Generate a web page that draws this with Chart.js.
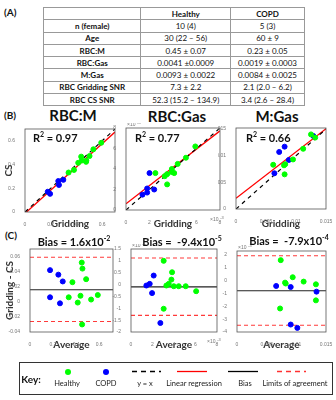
<!DOCTYPE html>
<html>
<head>
<meta charset="utf-8">
<script src="https://cdn.jsdelivr.net/npm/chart.js@4.4.0/dist/chart.umd.min.js"></script>
<style>
  body { margin: 0; width: 336px; height: 400px; background: #fff; position: relative; overflow: hidden; font-family: Lato, "Liberation Sans", sans-serif; color: #111; }
  .abs { position: absolute; white-space: nowrap; }
  .c { transform: translate(-50%, -50%); }
  canvas { position: absolute; }
  table { position: absolute; left: 43px; top: 7px; width: 262px; border-collapse: collapse; font-size: 8px; }
  td { border: 0.8px solid #999; height: 11.3px; padding: 0; text-align: center; }
  td:first-child, tr:first-child td { font-weight: bold; }
  .lbl { font-weight: bold; font-size: 10px; }
  .ttl { font-weight: bold; font-size: 15px; }
  .r2 { font-weight: bold; font-size: 11px; }
  .key { position: absolute; left: 19px; top: 362px; width: 312px; height: 31px; border: 1px solid #333; }
  .kt { font-size: 7.5px; color: #222; }
</style>
</head>
<body>
<div class="abs lbl" style="left:4px;top:6px;">(A)</div>
<table id="tbl"></table>

<div class="abs lbl" style="left:4px;top:109px;">(B)</div>
<div class="abs c ttl" style="left:73px;top:115px;">RBC:M</div>
<div class="abs c ttl" style="left:177px;top:116px;">RBC:Gas</div>
<div class="abs c ttl" style="left:277px;top:116px;">M:Gas</div>

<div class="abs lbl" style="left:5px;top:229px;">(C)</div>

<canvas id="b1" width="120" height="106" style="left:0;top:124px"></canvas>
<canvas id="b2" width="115" height="107" style="left:110px;top:123px"></canvas>
<canvas id="b3" width="118" height="107" style="left:218px;top:123px"></canvas>
<canvas id="c1" width="120" height="107" style="left:0;top:244px"></canvas>
<canvas id="c2" width="112" height="107" style="left:112px;top:244px"></canvas>
<canvas id="c3" width="116" height="107" style="left:220px;top:244px"></canvas>

<div class="abs r2" style="left:33px;top:130px;">R<sup style="font-size:7px">2</sup> = 0.97</div>
<div class="abs r2" style="left:135px;top:130px;">R<sup style="font-size:7px">2</sup> = 0.77</div>
<div class="abs r2" style="left:246px;top:130px;">R<sup style="font-size:7px">2</sup> = 0.66</div>

<div class="abs c r2" style="left:74px;top:241px;">Bias = 1.6x10<sup style="font-size:7px">-2</sup></div>
<div class="abs c r2" style="left:182px;top:241px;">Bias =&nbsp; -9.4x10<sup style="font-size:7px">-5</sup></div>
<div class="abs c r2" style="left:289px;top:240px;">Bias =&nbsp; -7.9x10<sup style="font-size:7px">-4</sup></div>

<div class="key"></div>
<div class="abs c" style="left:31px;top:379px;font-weight:bold;font-size:10px;">Key:</div>
<svg class="abs" style="left:0;top:362px" width="336" height="20">
  <circle cx="68" cy="10" r="3" fill="#00ff00"/>
  <circle cx="106" cy="10" r="3" fill="#0000ff"/>
  <line x1="132" y1="9.5" x2="161" y2="9.5" stroke="#000" stroke-width="1.3" stroke-dasharray="5,4"/>
  <line x1="177" y1="9.5" x2="207" y2="9.5" stroke="#ff0000" stroke-width="1.3"/>
  <line x1="228" y1="9.5" x2="258" y2="9.5" stroke="#000" stroke-width="1.3"/>
  <line x1="277" y1="9.5" x2="306" y2="9.5" stroke="#ff3030" stroke-width="1.3" stroke-dasharray="5,4"/>
</svg>
<div class="abs c kt" style="left:67px;top:383px;">Healthy</div>
<div class="abs c kt" style="left:106px;top:383px;">COPD</div>
<div class="abs c kt" style="left:145px;top:383px;">y = x</div>
<div class="abs c kt" style="left:194px;top:383px;">Linear regression</div>
<div class="abs c kt" style="left:245px;top:383px;">Bias</div>
<div class="abs c kt" style="left:295px;top:383px;">Limits of agreement</div>

<script>
// (A) table
const tableHead = ['', 'Healthy', 'COPD'];
const tableRows = [
  ['n (female)', '10 (4)', '5 (3)'],
  ['Age', '30 (22 \u2013 56)', '60 \u00b1 9'],
  ['RBC:M', '0.45 \u00b1 0.07', '0.23 \u00b1 0.05'],
  ['RBC:Gas', '0.0041 \u00b10.0009', '0.0019 \u00b1 0.0003'],
  ['M:Gas', '0.0093 \u00b1 0.0022', '0.0084 \u00b1 0.0025'],
  ['RBC Gridding SNR', '7.3 \u00b1 2.2', '2.1 (2.0 \u2013 6.2)'],
  ['RBC CS SNR', '52.3 (15.2 \u2013 134.9)', '3.4 (2.6 \u2013 28.4)'],
];

// (B) gridding vs CS
const rbcMHealthyGrid = [0.475, 0.477, 0.502, 0.381, 0.339, 0.442, 0.414, 0.532, 0.593, 0.437];
const rbcMHealthyCs   = [0.423, 0.433, 0.472, 0.355, 0.333, 0.434, 0.415, 0.529, 0.584, 0.467];
const rbcMCopdGrid = [0.195, 0.264, 0.298, 0.177, 0.259];
const rbcMCopdCs   = [0.153, 0.228, 0.271, 0.171, 0.261];
const rbcMFit = [0.98, -0.012]; // slope, intercept

const rbcGasHealthyGrid = [0.0035, 0.0041, 0.0039, 0.0035, 0.0033, 0.0039, 0.0044, 0.0051, 0.0059, 0.0025];
const rbcGasHealthyCs   = [0.0025, 0.0036, 0.0037, 0.0035, 0.0033, 0.0040, 0.0045, 0.0051, 0.0062, 0.0036];
const rbcGasCopdGrid = [0.0014, 0.0018, 0.0024, 0.0018, 0.0020];
const rbcGasCopdCs   = [0.0015, 0.0017, 0.0020, 0.0021, 0.0036];
const rbcGasFit = [0.89, 0.0006];

const mGasHealthyGrid = [0.0062, 0.0080, 0.0081, 0.0082, 0.0095, 0.0112, 0.0132, 0.0125];
const mGasHealthyCs   = [0.0083, 0.0082, 0.0065, 0.0084, 0.0093, 0.0113, 0.0134, 0.0140];
const mGasCopdGrid = [0.0064, 0.0088, 0.0129, 0.0072, 0.0081];
const mGasCopdCs   = [0.0067, 0.0092, 0.0137, 0.0107, 0.0117];
const mGasFit = [0.87, 0.002];

// (C) Bland-Altman: average vs gridding - CS
const baRbcMHealthyAvg  = [0.449, 0.455, 0.487, 0.368, 0.336, 0.438, 0.414, 0.530, 0.588, 0.452];
const baRbcMHealthyDiff = [0.052, 0.044, 0.030, 0.026, 0.006, 0.008, -0.001, 0.003, 0.009, -0.030];
const baRbcMCopdAvg  = [0.174, 0.246, 0.284, 0.174, 0.260];
const baRbcMCopdDiff = [0.042, 0.036, 0.027, 0.006, -0.002];
const baRbcMLines = [0.016, 0.059, -0.026]; // bias, upper, lower

const baRbcGasHealthyAvg  = [0.00304, 0.00382, 0.00376, 0.00351, 0.00329, 0.00398, 0.00444, 0.00509, 0.00606, 0.00304];
const baRbcGasHealthyDiff = [0.00100, 0.00052, 0.00021, 0.00003, -0.00004, -0.00007, -0.00007, -0.00007, -0.00028, -0.00102];
const baRbcGasCopdAvg  = [0.00143, 0.00174, 0.00211, 0.00196, 0.00273];
const baRbcGasCopdDiff = [-0.00004, 0.00003, 0.00038, -0.00036, -0.00162];
const baRbcGasLines = [-0.000094, 0.00112, -0.0013];

const baMGasHealthyAvg  = [0.00737, 0.0081, 0.00821, 0.00939, 0.01123, 0.0133, 0.0133, 0.00726];
const baMGasHealthyDiff = [0.00159, -0.00016, -0.00023, 0.00026, -0.00008, -0.00029, -0.00154, -0.00217];
const baMGasCopdAvg  = [0.0066, 0.00905, 0.0134, 0.00905, 0.01017];
const baMGasCopdDiff = [-0.00042, -0.0005, -0.00086, -0.00342, -0.00368];
const baMGasLines = [-0.00079, 0.00193, -0.00347];

// axis ticks
const ticksRbcM = [0, 0.2, 0.4, 0.6];
const ticksRbcGas = [0, 0.002, 0.004, 0.006, 0.008];
const ticksMGas = [0, 0.005, 0.01, 0.015];
const ticksBaRbcMY = [-0.04, -0.02, 0, 0.02, 0.04, 0.06];
const ticksBaRbcGasY = [-0.002, -0.0015, -0.001, -0.0005, 0, 0.0005, 0.001, 0.0015];
const ticksBaMGasY = [-0.004, -0.003, -0.002, -0.001, 0, 0.001, 0.002];

// build table
const tbl = document.getElementById('tbl');
[tableHead].concat(tableRows).forEach(r => {
  const tr = document.createElement('tr');
  r.forEach((t, i) => {
    const td = document.createElement('td');
    td.textContent = t;
    td.style.width = ['98px', '90px', '74px'][i];
    tr.appendChild(td);
  });
  tbl.appendChild(tr);
});

const GREEN = '#00ff00', BLUE = '#0000ff';
const pts = (xs, ys) => xs.map((x, i) => ({ x: x, y: ys[i] }));

// draws the axes box and the x10^-3 exponents
const boxPlugin = {
  id: 'box',
  afterDraw(chart, args, opts) {
    const { ctx, chartArea: a } = chart;
    ctx.save();
    ctx.strokeStyle = '#555';
    ctx.lineWidth = 0.8;
    ctx.strokeRect(a.left, a.top, a.right - a.left, a.bottom - a.top);
    const exp = (x, y) => {
      ctx.fillStyle = '#777';
      ctx.font = '5px "Liberation Sans"';
      ctx.textBaseline = 'alphabetic';
      ctx.fillText('\u00d710', x, y);
      ctx.font = '4px "Liberation Sans"';
      ctx.fillText('-3', x + ctx.measureText('\u00d710').width + 3.5, y - 2.5);
    };
    if (opts.expY) exp(a.left + 1, a.top - 2);
    if (opts.expX) exp(a.right - 10, a.bottom + 11);
    ctx.restore();
  }
};

function scaleCfg(min, max, ticks, size, title, titlePad, div) {
  return {
    type: 'linear', min: min, max: max,
    grid: { display: false }, border: { display: false },
    afterBuildTicks: s => { s.ticks = ticks.map(v => ({ value: v })); },
    afterFit: s => { if (s.isHorizontal()) s.height = size; else s.width = size; },
    ticks: {
      font: { family: 'Liberation Sans', size: 5 }, color: '#777', padding: 2, maxRotation: 0,
      callback: v => div ? String(Math.round(v * div * 10) / 10) : String(Math.round(v * 1000) / 1000)
    },
    title: {
      display: !!title, text: title || '', color: '#333',
      font: { family: 'Lato', size: 10, weight: 'bold' },
      padding: { top: titlePad, bottom: 0 }
    }
  };
}

function lineSet(data, color, dash, width) {
  return { data: data, showLine: true, borderColor: color, borderDash: dash, borderWidth: width, pointRadius: 0, fill: false };
}

function panel(id, groups, lines, xs, ys, pad, exp) {
  const datasets = [
    { data: groups[0], backgroundColor: GREEN, borderColor: GREEN, pointRadius: 2.5 },
    { data: groups[1], backgroundColor: BLUE, borderColor: BLUE, pointRadius: 2.5 }
  ].concat(lines);
  new Chart(document.getElementById(id), {
    type: 'scatter',
    data: { datasets: datasets },
    options: {
      responsive: false, animation: false,
      layout: { padding: pad },
      plugins: { legend: { display: false }, tooltip: { enabled: false }, box: exp },
      scales: { x: xs, y: ys }
    },
    plugins: [boxPlugin]
  });
}

function fitLine(fit, x0, x1) {
  return [{ x: x0, y: fit[0] * x0 + fit[1] }, { x: x1, y: fit[0] * x1 + fit[1] }];
}
function hLine(y, x0, x1) { return [{ x: x0, y: y }, { x: x1, y: y }]; }
function baLines(l, x1) {
  return [
    lineSet(hLine(l[0], 0, x1), '#222', [], 1.2),
    lineSet(hLine(l[1], 0, x1), '#ff3a3a', [4, 3], 1.1),
    lineSet(hLine(l[2], 0, x1), '#ff3a3a', [4, 3], 1.1)
  ];
}

// (B)
panel('b1', [pts(rbcMHealthyGrid, rbcMHealthyCs), pts(rbcMCopdGrid, rbcMCopdCs)],
  [lineSet([{ x: 0, y: 0 }, { x: 0.7, y: 0.7 }], '#000', [4, 4], 1.2), lineSet(fitLine(rbcMFit, 0, 0.7), '#ff0000', [], 1.3)],
  scaleCfg(0, 0.7, ticksRbcM, 18, 'Gridding', 0, 0),
  scaleCfg(0, 0.7, ticksRbcM, 25, 'CS', 3, 0),
  { top: 4, right: 5, left: 0, bottom: 0 }, {});

panel('b2', [pts(rbcGasHealthyGrid, rbcGasHealthyCs), pts(rbcGasCopdGrid, rbcGasCopdCs)],
  [lineSet([{ x: 0, y: 0 }, { x: 0.008, y: 0.008 }], '#000', [4, 4], 1.2), lineSet(fitLine(rbcGasFit, 0, 0.008), '#ff0000', [], 1.3)],
  scaleCfg(0, 0.008, ticksRbcGas, 20, 'Gridding', 0, 1000),
  scaleCfg(0, 0.008, ticksRbcGas, 16, '', 0, 1000),
  { top: 4, right: 5, left: 0, bottom: 0 }, { expX: true, expY: true });

panel('b3', [pts(mGasHealthyGrid, mGasHealthyCs), pts(mGasCopdGrid, mGasCopdCs)],
  [lineSet([{ x: 0, y: 0 }, { x: 0.015, y: 0.015 }], '#000', [4, 4], 1.2), lineSet(fitLine(mGasFit, 0, 0.015), '#ff0000', [], 1.3)],
  scaleCfg(0, 0.015, ticksMGas, 21, 'Gridding', 0, 0),
  scaleCfg(0, 0.0152, ticksMGas, 18, '', 0, 0),
  { top: 4, right: 10, left: 0, bottom: 0 }, {});

// (C)
panel('c1', [pts(baRbcMHealthyAvg, baRbcMHealthyDiff), pts(baRbcMCopdAvg, baRbcMCopdDiff)],
  baLines(baRbcMLines, 0.72),
  scaleCfg(0, 0.72, ticksRbcM, 19, 'Average', 0, 0),
  scaleCfg(-0.04, 0.07, ticksBaRbcMY, 30, 'Gridding - CS', 4, 0),
  { top: 4, right: 7, left: 0, bottom: 0 }, {});

panel('c2', [pts(baRbcGasHealthyAvg, baRbcGasHealthyDiff), pts(baRbcGasCopdAvg, baRbcGasCopdDiff)],
  baLines(baRbcGasLines, 0.008),
  scaleCfg(0, 0.008, ticksRbcGas, 19, 'Average', 0, 1000),
  scaleCfg(-0.002, 0.0015, ticksBaRbcGasY, 19, '', 0, 1000),
  { top: 4, right: 7, left: 0, bottom: 0 }, { expX: true, expY: true });

panel('c3', [pts(baMGasHealthyAvg, baMGasHealthyDiff), pts(baMGasCopdAvg, baMGasCopdDiff)],
  baLines(baMGasLines, 0.015),
  scaleCfg(0, 0.015, ticksMGas, 19, 'Average', 0, 0),
  scaleCfg(-0.004, 0.0023, ticksBaMGasY, 17, '', 0, 1000),
  { top: 7, right: 10, left: 0, bottom: 0 }, { expY: true });
</script>
</body>
</html>
